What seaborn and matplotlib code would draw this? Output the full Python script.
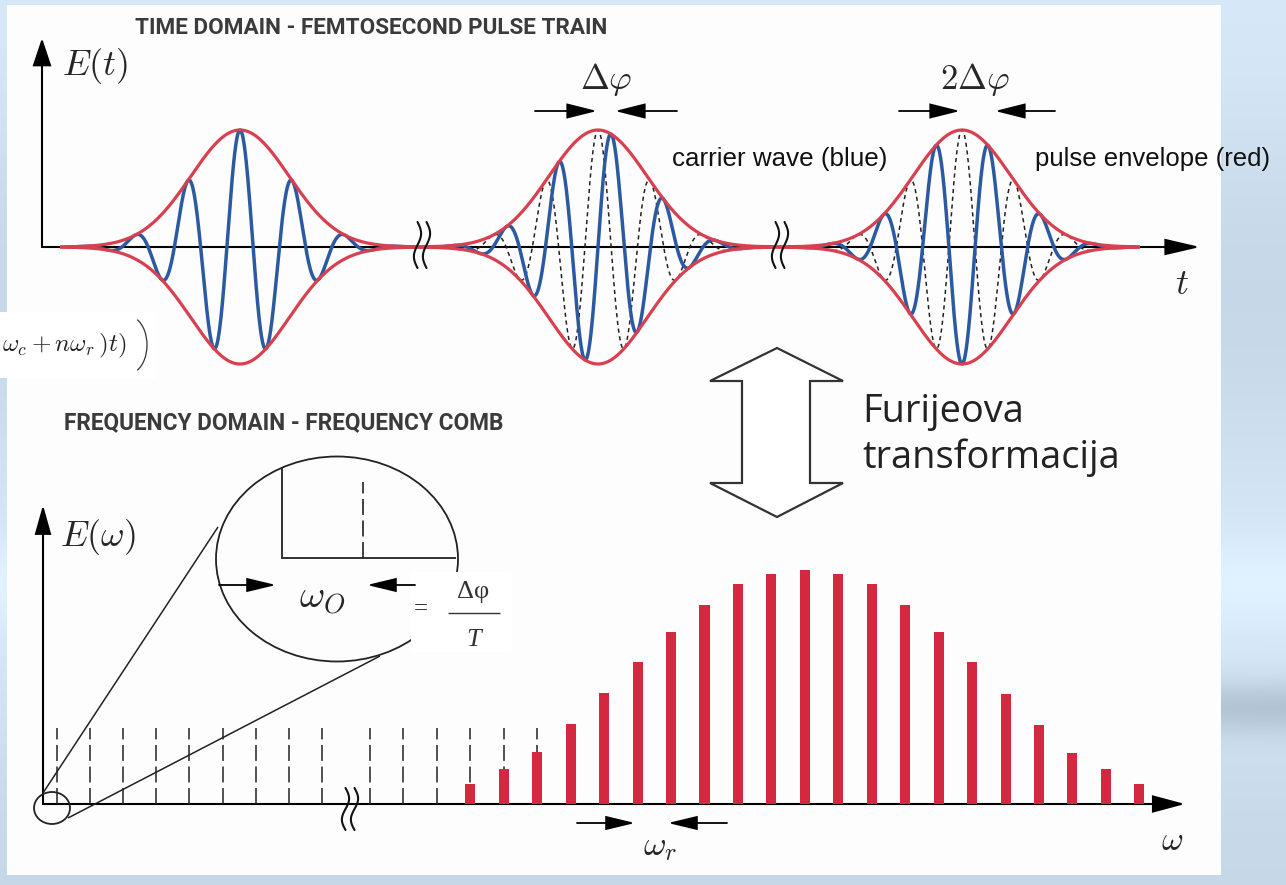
import numpy as np
import matplotlib
matplotlib.use("Agg")
import matplotlib.pyplot as plt
import seaborn as sns
from matplotlib.patches import Rectangle, Ellipse, Polygon, FancyArrowPatch, Arc

sns.set_theme(style="white")
plt.rcParams['font.family'] = ['DejaVu Sans']
plt.rcParams['mathtext.fontset'] = 'cm'
plt.rcParams['lines.scale_dashes'] = False
plt.rcParams['lines.solid_capstyle'] = 'butt'

# ---------------- data ----------------
pulse_phase_steps = [0, 1, 2]          # carrier-envelope phase of each pulse, in units of Δφ
delta_phi = np.pi / 2                  # Δφ (pulse-to-pulse phase slip)
comb_heights = [20, 35, 52, 80, 111, 142, 172, 199, 220, 230, 234,
                230, 220, 199, 172, 142, 110, 79, 51, 35, 20]
offset_teeth_left = 9                  # dashed reference teeth before the axis break
offset_teeth_right = 6                 # dashed reference teeth after the break
first_bar_tooth = 3                    # comb lines start at this right-hand tooth
header_time = "TIME DOMAIN - FEMTOSECOND PULSE TRAIN"
header_freq = "FREQUENCY DOMAIN - FREQUENCY COMB"
label_carrier = "carrier wave (blue)"
label_envelope = "pulse envelope (red)"
label_fourier = ["Furijeova", "transformacija"]

# ---------------- layout (pixels) ----------------
W, H, DPI = 1286, 885, 100
PX2PT = 72 / DPI
T_BASE, F_BASE = 247, 804
PULSE_X = [240, 598, 962]
PULSE_AMP, PULSE_SIG, PERIOD = 117, 49, 52.5
RED, BLUE, BAR = '#d8404f', '#2c5aa0', '#d3283f'

fig = plt.figure(figsize=(W / DPI, H / DPI), dpi=DPI)
fig.patch.set_facecolor('#cddfec')


def make_axes(base, z):
    a = fig.add_axes([0, 0, 1, 1])
    a.set_xlim(0, W)
    if base is None:
        a.set_ylim(H, 0)
    else:
        a.set_ylim(base - H, base)
    a.axis('off')
    a.set_zorder(z)
    return a


def arrow(ax, x0, y0, x1, y1, hl=24, hw=7, lw=1.4, color='black', z=6):
    style = f"-|>,head_length={hl * PX2PT},head_width={hw * PX2PT}"
    ax.add_patch(FancyArrowPatch((x0, y0), (x1, y1), arrowstyle=style, mutation_scale=1,
                                 lw=lw, color=color, shrinkA=0, shrinkB=0, zorder=z,
                                 joinstyle='miter'))


def fit_width(t, w):
    r = fig.canvas.get_renderer()
    bb = t.get_window_extent(renderer=r)
    t.set_fontsize(t.get_fontsize() * w / bb.width)
    return t.get_fontsize()


# ---------------- background ----------------
bg = make_axes(None, 0)
gy = np.linspace(0, 1, 300)[:, None]
gx = np.linspace(0, 1, 400)[None, :]
base = np.array([0.81, 0.88, 0.94])
shade = (0.03 * np.cos(3 * np.pi * gy) - 0.12 * np.exp(-((gy - 0.80) / 0.03) ** 2) * gx
         + 0.04 * np.exp(-((gy - 0.66) / 0.05) ** 2))
img = np.clip(base[None, None, :] + shade[..., None], 0, 1)
bg.imshow(img, extent=(0, W, H, 0), aspect='auto', interpolation='bilinear', zorder=0)
bg.add_patch(Rectangle((7, 5), 1214, 870, fc='#fdfdfd', ec='none', zorder=1))
bg.set_xlim(0, W)
bg.set_ylim(H, 0)

# ---------------- time domain ----------------
ax_t = make_axes(T_BASE, 1)
arrow(ax_t, 42, 0, 42, T_BASE - 38, hl=24, hw=8, lw=1.5, z=2)
arrow(ax_t, 42, 0, 1200, 0, hl=30, hw=7, lw=1.5, z=2)

k = 2 * np.pi / PERIOD
for cx, n in zip(PULSE_X, pulse_phase_steps):
    xs = np.linspace(cx - 175, cx + 175, 1400)
    env = PULSE_AMP * np.exp(-(xs - cx) ** 2 / (2 * PULSE_SIG ** 2))
    if n > 0:
        ax_t.plot(xs, env * np.cos(k * (xs - cx)), color='#222222', lw=1.1,
                  ls=(0, (3.0, 2.6)), zorder=3)
    sns.lineplot(x=xs, y=env * np.cos(k * (xs - cx) - n * delta_phi), ax=ax_t,
                 color=BLUE, lw=2.5, estimator=None, sort=False, zorder=4)

xe = np.linspace(60, 1140, 4000)
env_all = sum(PULSE_AMP * np.exp(-(xe - c) ** 2 / (2 * PULSE_SIG ** 2)) for c in PULSE_X)
for sgn in (1, -1):
    sns.lineplot(x=xe, y=sgn * env_all, ax=ax_t, color=RED, lw=2.3,
                 estimator=None, sort=False, zorder=5)
ax_t.set_xlim(0, W)
ax_t.set_ylim(T_BASE - H, T_BASE)
ax_t.axis('off')

# ---------------- frequency domain ----------------
ax_f = make_axes(F_BASE, 1)
arrow(ax_f, 43, 0, 43, F_BASE - 505, hl=25, hw=7, lw=1.5, z=2)
arrow(ax_f, 43, 0, 1185, 0, hl=28, hw=7.5, lw=1.5, z=2)

left_x = 57 + 33.1 * np.arange(offset_teeth_left)
right_x = 370 + 33.45 * np.arange(offset_teeth_right)
ax_f.vlines(np.concatenate([left_x, right_x]), 0, 76, colors='#222222', lw=1.1,
            linestyles=[(0, (11.5, 4.0))], zorder=2)
bar_x = 370 + 33.45 * (first_bar_tooth + np.arange(len(comb_heights)))
sns.barplot(x=bar_x, y=comb_heights, native_scale=True, width=0.3, color=BAR,
            saturation=1, errorbar=None, linewidth=0, ax=ax_f, zorder=3)
ax_f.set_xlim(0, W)
ax_f.set_ylim(F_BASE - H, F_BASE)
ax_f.axis('off')

# ---------------- overlay (pixel coords, y down) ----------------
ax = make_axes(None, 2)


def break_mark(xc, yc, h, z=7):
    t = np.linspace(0, 1, 60)
    for off in (-4.5, 4.5):
        ax.plot(xc + off + 3.6 * np.sin(2 * np.pi * t), yc - h / 2 + h * t,
                color='#111111', lw=1.5, zorder=z, solid_capstyle='round')


break_mark(422, 245, 46)
break_mark(780, 245, 46)
break_mark(350, 809, 42)

# headers
hfam = ['Liberation Sans Narrow', 'Roboto', 'DejaVu Sans']
t1 = ax.text(135, 28, header_time, ha='left', va='center', fontweight='bold',
             color='#3b3b3b', family=hfam, fontsize=14, zorder=8)
fit_width(t1, 473)
t2 = ax.text(64, 423, header_freq, ha='left', va='center', fontweight='bold',
             color='#3b3b3b', family=hfam, fontsize=14, zorder=8)
fit_width(t2, 440)

# axis labels
ax.text(62, 66, r'$E(t)$', ha='left', va='center', fontsize=26, zorder=8)
ax.text(1182, 284, r'$t$', ha='center', va='center', fontsize=26, zorder=8)
ax.text(60, 537, r'$E(\omega)$', ha='left', va='center', fontsize=26, zorder=8)
ax.text(1172, 840, r'$\omega$', ha='center', va='center', fontsize=24, zorder=8)

# Δφ markers
ax.text(606, 80, r'$\Delta\varphi$', ha='center', va='center', fontsize=25, zorder=8)
arrow(ax, 535, 111, 597, 111, hl=26, hw=6.5, lw=1.3)
arrow(ax, 677, 111, 615, 111, hl=26, hw=6.5, lw=1.3)
ax.text(975, 80, r'$2\Delta\varphi$', ha='center', va='center', fontsize=25, zorder=8)
arrow(ax, 899, 111, 960, 111, hl=26, hw=6.5, lw=1.3)
arrow(ax, 1055, 111, 995, 111, hl=26, hw=6.5, lw=1.3)

# legend-like labels
lfam = ['Liberation Sans', 'DejaVu Sans']
t3 = ax.text(672, 166, label_carrier, ha='left', va='baseline', family=lfam,
             fontsize=16, color='#111111', zorder=8)
fit_width(t3, 216)
t4 = ax.text(1035, 166, label_envelope, ha='left', va='baseline', family=lfam,
             fontsize=16, color='#111111', zorder=8)
fit_width(t4, 235)

# formula fragment at the left
ax.add_patch(Rectangle((0, 312), 156, 66, fc='white', ec='none', zorder=3))
ax.text(2, 346, r'$\omega_c + n\omega_r\,)t)$', ha='left', va='center',
        fontsize=18, color='#222222', zorder=4)
ax.add_patch(Arc((128, 345), 38, 58, theta1=-70, theta2=70, color='#333333',
                 lw=0.9, zorder=4))

# Fourier transform double arrow
ax.add_patch(Polygon([(777, 348), (843, 381), (810, 381), (810, 483), (843, 483),
                      (777, 517), (710, 483), (742, 483), (742, 381), (710, 381)],
                     closed=True, fc='white', ec='#333333', lw=1.6, zorder=4,
                     joinstyle='miter'))
ffam = ['Open Sans', 'DejaVu Sans']
t5 = ax.text(862, 468, label_fourier[1], ha='left', va='baseline', family=ffam,
             fontsize=26, color='#222222', zorder=8)
fs = fit_width(t5, 258)
ax.text(862, 422, label_fourier[0], ha='left', va='baseline', family=ffam,
        fontsize=fs, color='#222222', zorder=8)

# magnifier
ax.add_patch(Ellipse((52, 808), 36, 32, fill=False, ec='#222222', lw=1.3, zorder=4))
ax.add_patch(Ellipse((337, 559), 242, 205, fill=False, ec='#222222', lw=1.3, zorder=4))
ax.plot([43, 218], [793, 527], color='#222222', lw=1.1, zorder=4)
ax.plot([68, 380], [818, 656], color='#222222', lw=1.1, zorder=4)
ax.plot([282, 282, 456], [468, 558, 558], color='#222222', lw=1.3, zorder=4,
        solid_joinstyle='miter')
ax.plot([363, 363], [558, 482], color='#222222', lw=1.2, ls=(0, (11.5, 4.0)), zorder=4)
arrow(ax, 219, 585, 276, 585, hl=25, hw=6, lw=1.3)
arrow(ax, 415, 585, 367, 585, hl=25, hw=6, lw=1.3)
ax.text(322, 598, r'$\omega_O$', ha='center', va='center', fontsize=28, zorder=8)

ax.add_patch(Rectangle((411, 572), 100, 80, fc='white', ec='none', zorder=5))
sfam = ['Liberation Serif', 'DejaVu Serif']
ax.text(421, 609, '=', ha='center', va='center', family=sfam, fontsize=18,
        color='#333333', zorder=8)
ax.text(473, 592, 'Δφ', ha='center', va='center', family=sfam, fontsize=19,
        color='#333333', zorder=8)
ax.plot([448, 500], [613, 613], color='#333333', lw=1.0, zorder=8)
ax.text(474, 640, 'T', ha='center', va='center', family=sfam, style='italic',
        fontsize=19, color='#333333', zorder=8)

# ω_r spacing marker
arrow(ax, 577, 823, 635, 823, hl=25, hw=6, lw=1.3)
arrow(ax, 727, 823, 668, 823, hl=25, hw=6, lw=1.3)
ax.text(660, 846, r'$\omega_r$', ha='center', va='center', fontsize=25, zorder=8)

ax.set_xlim(0, W)
ax.set_ylim(H, 0)

fig.savefig('out.png', dpi=DPI, facecolor=fig.get_facecolor())
